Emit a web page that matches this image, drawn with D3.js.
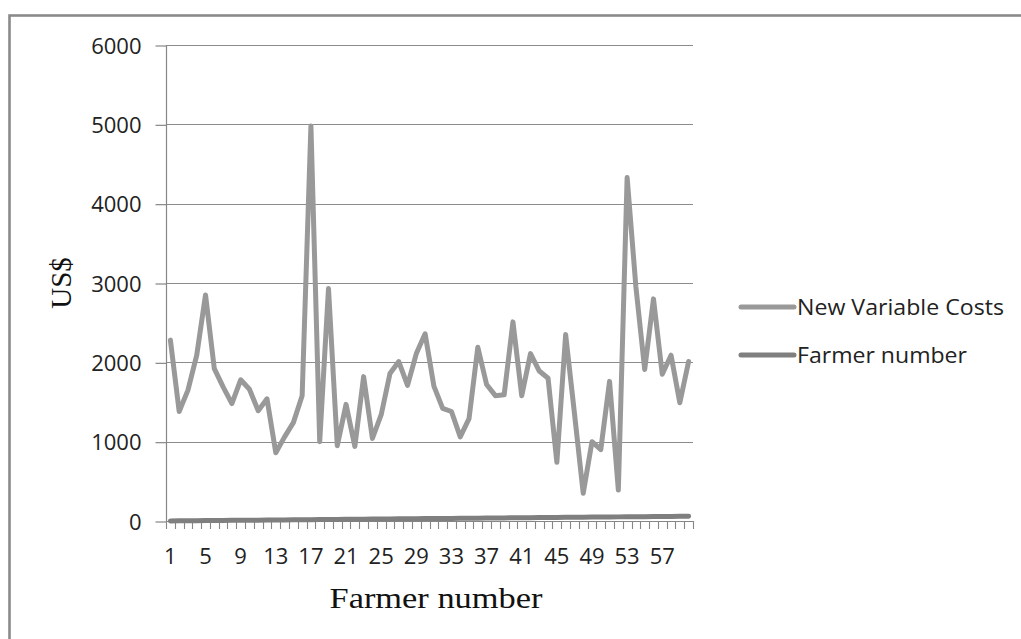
<!DOCTYPE html>
<html><head><meta charset="utf-8">
<script src="https://cdn.jsdelivr.net/npm/d3@7"></script>
<style>html,body{margin:0;padding:0;background:#fff;overflow:hidden}</style>
</head><body>
<svg id="chart" width="1021" height="639"></svg>
<script>
const categories = [1,2,3,4,5,6,7,8,9,10,11,12,13,14,15,16,17,18,19,20,21,22,23,24,25,26,27,28,29,30,31,32,33,34,35,36,37,38,39,40,41,42,43,44,45,46,47,48,49,50,51,52,53,54,55,56,57,58,59,60];
const newVariableCosts = [2280,1380,1650,2090,2850,1920,1690,1480,1780,1660,1390,1540,860,1060,1240,1580,4980,1000,2930,950,1470,940,1820,1040,1340,1860,2010,1710,2110,2360,1700,1420,1380,1060,1290,2190,1720,1580,1590,2510,1580,2110,1890,1800,740,2350,1360,350,1000,900,1760,390,4330,2950,1910,2800,1850,2090,1490,2010];
const farmerNumber = [1,2,3,4,5,6,7,8,9,10,11,12,13,14,15,16,17,18,19,20,21,22,23,24,25,26,27,28,29,30,31,32,33,34,35,36,37,38,39,40,41,42,43,44,45,46,47,48,49,50,51,52,53,54,55,56,57,58,59,60];
const yTicks = [0,1000,2000,3000,4000,5000,6000];
const xTickLabels = [1,5,9,13,17,21,25,29,33,37,41,45,49,53,57];
const seriesNames = ["New Variable Costs","Farmer number"];

const svg = d3.select("#chart");
const L = 166, R = 693, T = 45, B = 521;
const x = d3.scaleBand().domain(categories).range([L, R]).padding(0);
const y = d3.scaleLinear().domain([0, 6000]).range([B, T]);
const gridCol = "#8c8c8c", axisCol = "#868686";
const numFont = "'Open Sans', sans-serif";

// outer border (cropped)
svg.append("rect").attr("x", 9.5).attr("y", 15.5).attr("width", 1200).attr("height", 800)
  .attr("fill", "none").attr("stroke", "#8a8a8a").attr("stroke-width", 2.6);

// gridlines
svg.append("g").selectAll("line").data(yTicks.filter(d => d > 0)).join("line")
  .attr("x1", L).attr("x2", R).attr("y1", d => Math.round(y(d)) + 0.5).attr("y2", d => Math.round(y(d)) + 0.5)
  .attr("stroke", gridCol).attr("stroke-width", 1.2);

// y axis
const yAxis = d3.axisLeft(y).tickValues(yTicks).tickSize(11).tickPadding(14).tickFormat(d3.format("d"));
const gy = svg.append("g").attr("transform", `translate(${L + 0.5},0.5)`).call(yAxis);
gy.select(".domain").attr("stroke", axisCol).attr("stroke-width", 1.2).attr("d", `M0,${B}V${T}`);
gy.selectAll(".tick line").attr("stroke", axisCol).attr("stroke-width", 1.2);
gy.selectAll(".tick text").attr("font-family", numFont).attr("font-size", 22).attr("fill", "#222").attr("dy", "0.35em");

// x axis (ticks at category boundaries)
const gx = svg.append("g");
gx.append("line").attr("x1", L).attr("x2", R).attr("y1", B + 0.5).attr("y2", B + 0.5)
  .attr("stroke", axisCol).attr("stroke-width", 1.2);
const bounds = categories.map(c => x(c)).concat([x(categories[categories.length - 1]) + x.bandwidth()]);
gx.selectAll("line.tk").data(bounds).join("line").attr("class", "tk")
  .attr("x1", d => Math.round(d) + 0.5).attr("x2", d => Math.round(d) + 0.5)
  .attr("y1", B).attr("y2", B + 8).attr("stroke", axisCol).attr("stroke-width", 1.1);
gx.selectAll("text").data(xTickLabels).join("text")
  .attr("x", d => x(d) + x.bandwidth() / 2).attr("y", 564)
  .attr("text-anchor", "middle").attr("font-family", numFont).attr("font-size", 22).attr("fill", "#222")
  .text(d => d);

// lines
const line = d3.line().x((d, i) => x(categories[i]) + x.bandwidth() / 2).y(d => y(d));
svg.append("path").datum(farmerNumber).attr("d", line).attr("fill", "none")
  .attr("stroke", "#7f7f7f").attr("stroke-width", 5).attr("stroke-linejoin", "round").attr("stroke-linecap", "round");
svg.append("path").datum(newVariableCosts).attr("d", line).attr("fill", "none")
  .attr("stroke", "#999999").attr("stroke-width", 5).attr("stroke-linejoin", "round").attr("stroke-linecap", "round");

// axis titles
svg.append("text").attr("transform", "translate(71,283) rotate(-90)").attr("text-anchor", "middle")
  .attr("font-family", "'Liberation Serif', 'Times New Roman', serif").attr("font-size", 29).attr("fill", "#111")
  .text("US$");
svg.append("text").attr("x", 436).attr("y", 608).attr("text-anchor", "middle")
  .attr("font-family", "'Liberation Serif', 'Times New Roman', serif").attr("font-size", 30).attr("fill", "#111")
  .attr("textLength", 213).attr("lengthAdjust", "spacingAndGlyphs")
  .text("Farmer number");

// legend
const legCols = ["#999999", "#7f7f7f"];
const legY = [307, 355];
const legW = [207, 170];
const lg = svg.append("g");
seriesNames.forEach((n, i) => {
  lg.append("line").attr("x1", 741).attr("x2", 794).attr("y1", legY[i]).attr("y2", legY[i])
    .attr("stroke", legCols[i]).attr("stroke-width", 5).attr("stroke-linecap", "round");
  lg.append("text").attr("x", 797).attr("y", legY[i]).attr("dy", "0.36em")
    .attr("font-family", numFont).attr("font-size", 21).attr("fill", "#222")
    .attr("textLength", legW[i]).attr("lengthAdjust", "spacingAndGlyphs")
    .text(n);
});
</script>
</body></html>
